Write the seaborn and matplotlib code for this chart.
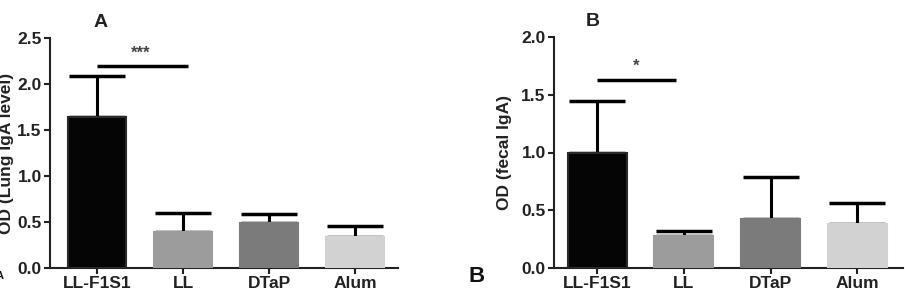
import matplotlib
matplotlib.use("Agg")
import matplotlib.pyplot as plt
import seaborn as sns
import pandas as pd

groups = ["LL-F1S1", "LL", "DTaP", "Alum"]
lung_mean = [1.64, 0.39, 0.49, 0.34]
lung_err = [0.45, 0.21, 0.10, 0.12]
fecal_mean = [1.00, 0.28, 0.42, 0.38]
fecal_err = [0.45, 0.04, 0.37, 0.18]
bar_colors = ["#050505", "#9c9c9c", "#7b7b7b", "#d2d2d2"]
edge_colors = ["#2a2a2a", "#9c9c9c", "#7b7b7b", "#d2d2d2"]

sns.set_theme(style="ticks")
plt.rcParams["font.family"] = ["Liberation Sans", "DejaVu Sans"]
plt.rcParams["font.weight"] = "bold"

fig = plt.figure(figsize=(9.05, 3.04), dpi=100)
W, H = 905, 304


def make_axes(l, r, t, b):
    return fig.add_axes([l / W, 1 - b / H, (r - l) / W, (b - t) / H])


def panel(ax, means, errs, ylim, ystep, ylabel, label_x, xlim):
    df = pd.DataFrame({"group": groups, "value": means})
    sns.barplot(data=df, x="group", y="value", hue="group", palette=bar_colors,
                order=groups, hue_order=groups, legend=False, width=0.68,
                ax=ax, linewidth=1.5, edgecolor=None)
    for p, ec in zip(ax.patches, edge_colors):
        p.set_edgecolor(ec)
        p.set_zorder(3)
    ax.errorbar(range(len(groups)), means, yerr=[[0] * len(groups), errs],
                fmt="none", ecolor="black", elinewidth=2.2, capsize=20,
                capthick=2.5, zorder=2)
    ax.set_ylim(*ylim)
    ax.set_xlim(*xlim)
    ticks = [round(i * ystep, 2) for i in range(int(round(ylim[1] / ystep)) + 1)]
    ax.set_yticks(ticks)
    ax.set_yticklabels([f"{t:.1f}" for t in ticks])
    ax.set_xlabel("")
    ax.set_ylabel(ylabel, fontsize=12.5, fontweight="bold", color="#222222")
    ax.yaxis.set_label_coords(label_x, 0.5)
    for s in ["top", "right"]:
        ax.spines[s].set_visible(False)
    for s in ["left", "bottom"]:
        ax.spines[s].set_linewidth(1.5)
        ax.spines[s].set_color("#222222")
    ax.tick_params(axis="both", length=4, width=1.5, color="#222222",
                   labelsize=12.5, labelcolor="#222222", pad=2)
    for lab in ax.get_xticklabels() + ax.get_yticklabels():
        lab.set_fontweight("bold")


axA = make_axes(50, 398, 38, 268)
panel(axA, lung_mean, lung_err, (0, 2.5), 0.5, "OD (Lung IgA level)", -0.103, (-0.55, 3.5))
axA.plot([0, 1.06], [2.2, 2.2], color="black", lw=2.5, solid_capstyle="butt")
axA.text(0.5, 2.25, "***", ha="center", va="bottom", fontsize=12, color="#444444")
axA.set_title("A", fontsize=14, fontweight="bold", color="#222222", pad=8, x=0.145)

axB = make_axes(554, 903, 37, 268)
panel(axB, fecal_mean, fecal_err, (0, 2.0), 0.5, "OD (fecal IgA)", -0.12, (-0.5, 3.53))
axB.plot([0, 0.91], [1.63, 1.63], color="black", lw=2.5, solid_capstyle="butt")
axB.text(0.45, 1.68, "*", ha="center", va="bottom", fontsize=12, color="#444444")
axB.set_title("B", fontsize=14, fontweight="bold", color="#222222", pad=8, x=0.11)

fig.text(477 / W, 1 - 277 / H, "B", fontsize=16, fontweight="bold", ha="center", va="center",
         color="#111111")
fig.text(0 / W, 1 - 276 / H, "A", fontsize=8, fontweight="bold", ha="center", va="center",
         color="#111111")

fig.savefig("out.png", dpi=100)
